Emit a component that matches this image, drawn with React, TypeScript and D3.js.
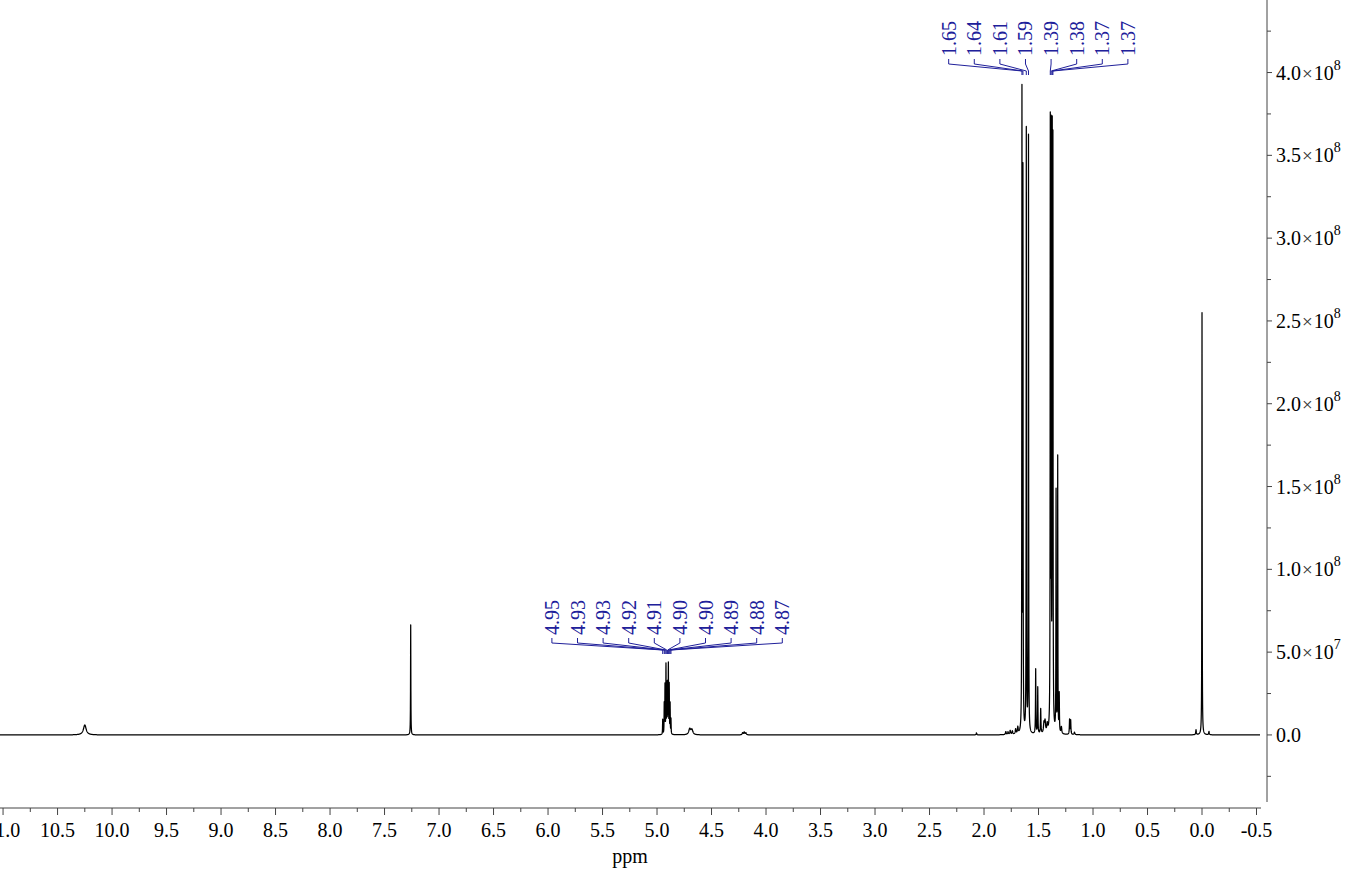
import React from 'react';
import * as d3 from 'd3';

const W = 1360;
const H = 870;

// Spectrum peak list: chemical shift (ppm), height (x1e6), FWHM (ppm)
const peakPpm = [
  10.25, 7.26,
  4.948, 4.934, 4.927, 4.918, 4.910, 4.903, 4.896, 4.888, 4.880, 4.872,
  4.70, 4.68, 4.215, 4.20, 4.185, 2.07,
  1.80, 1.78, 1.76, 1.74, 1.71, 1.69,
  1.652, 1.643, 1.612, 1.592,
  1.526, 1.507, 1.48, 1.45, 1.44, 1.42,
  1.392, 1.384, 1.374, 1.368,
  1.339, 1.324, 1.31, 1.29,
  1.215, 1.205, 1.17,
  0.055, 0.0, -0.064,
];
const peakHeight = [
  6.0, 66.5,
  9, 18, 29, 41, 29, 29, 41, 29, 18, 9,
  3.5, 3.0, 1.2, 1.6, 1.2, 1.2,
  1.8, 1.6, 2.4, 2.0, 3.0, 4.0,
  383, 334, 364, 360,
  39, 28, 15, 6, 7, 5,
  360, 351, 343, 340,
  145, 166, 23, 4,
  9, 8.5, 1.5,
  3, 255, 2,
];
const peakWidth = [
  0.03, 0.003,
  0.003, 0.003, 0.003, 0.003, 0.003, 0.003, 0.003, 0.003, 0.003, 0.003,
  0.02, 0.02, 0.01, 0.01, 0.01, 0.006,
  0.008, 0.008, 0.008, 0.008, 0.008, 0.008,
  0.003, 0.003, 0.003, 0.003,
  0.004, 0.004, 0.005, 0.01, 0.01, 0.01,
  0.003, 0.003, 0.003, 0.003,
  0.003, 0.003, 0.004, 0.008,
  0.005, 0.005, 0.008,
  0.006, 0.003, 0.006,
];

// Peak annotation groups
const group1Labels = ['1.65', '1.64', '1.61', '1.59', '1.39', '1.38', '1.37', '1.37'];
const group1Ppm = [1.652, 1.643, 1.612, 1.592, 1.392, 1.384, 1.374, 1.368];
const group2Labels = ['4.95', '4.93', '4.93', '4.92', '4.91', '4.90', '4.90', '4.89', '4.88', '4.87'];
const group2Ppm = [4.948, 4.934, 4.927, 4.918, 4.910, 4.903, 4.896, 4.888, 4.880, 4.872];

// Axis ticks
const xMajorTicks = [11.0, 10.5, 10.0, 9.5, 9.0, 8.5, 8.0, 7.5, 7.0, 6.5, 6.0, 5.5, 5.0, 4.5, 4.0, 3.5, 3.0, 2.5, 2.0, 1.5, 1.0, 0.5, 0.0, -0.5];
const xMinorTicks = [10.75, 10.25, 9.75, 9.25, 8.75, 8.25, 7.75, 7.25, 6.75, 6.25, 5.75, 5.25, 4.75, 4.25, 3.75, 3.25, 2.75, 2.25, 1.75, 1.25, 0.75, 0.25, -0.25];
const yMajorTicks = [0, 5e7, 1e8, 1.5e8, 2e8, 2.5e8, 3e8, 3.5e8, 4e8];
const yMinorTicks = [-2.5e7, 2.5e7, 7.5e7, 1.25e8, 1.75e8, 2.25e8, 2.75e8, 3.25e8, 3.75e8, 4.25e8];

const FONT = '"Liberation Serif", "Times New Roman", serif';
const LABEL_BLUE = '#20209a';

export default function App() {
  const x = d3.scaleLinear().domain([11.028, -0.532]).range([0, 1260]);
  const y = d3.scaleLinear().domain([-4.05e7, 4.438e8]).range([802, 0]);

  // build sampled spectrum from peak list
  const samples: number[] = [];
  for (let px = 0; px <= 1260; px += 0.1) samples.push(x.invert(px));
  peakPpm.forEach((p) => samples.push(p));
  samples.sort((a, b) => b - a);
  const intensity = (ppm: number) => {
    let s = 0;
    for (let i = 0; i < peakPpm.length; i++) {
      const g = peakWidth[i] / 2;
      const d = ppm - peakPpm[i];
      s += peakHeight[i] * 1e6 * (g * g) / (d * d + g * g);
    }
    return s;
  };
  const pts: [number, number][] = samples.map((p) => [p, intensity(p)]);
  const line = d3.line<[number, number]>().x((d) => x(d[0])).y((d) => y(d[1]));
  const specPath = line(pts) || '';

  const renderGroup = (labels: string[], ppms: number[], T: number, key: string) => {
    const pxs = ppms.map((p) => x(p));
    const center = d3.mean(pxs) as number;
    const step = 25.6;
    const n = labels.length;
    return (
      <g key={key}>
        {labels.map((lab, i) => {
          const lx = center + (i - (n - 1) / 2) * step;
          const px = pxs[i];
          return (
            <g key={i}>
              <path
                d={`M${lx},${T + 3}L${lx},${T + 8}L${px},${T + 15}L${px},${T + 19}`}
                fill="none"
                stroke={LABEL_BLUE}
                strokeWidth={1}
              />
              <text
                transform={`translate(${lx + 7},${T}) rotate(-90)`}
                fontSize={20}
                fontFamily={FONT}
                fill={LABEL_BLUE}
              >
                {lab}
              </text>
            </g>
          );
        })}
      </g>
    );
  };

  const fmtY = (v: number) => {
    if (v === 0) return { m: '0.0', e: null as number | null };
    const e = Math.floor(Math.log10(v) + 1e-9);
    const m = (v / Math.pow(10, e)).toFixed(1);
    return { m, e };
  };

  const xAxisY = 808;
  const yAxisX = 1267;

  return (
    <svg
      width={W}
      height={H}
      style={{ position: 'absolute', left: 0, top: 0, background: '#fff' }}
      fontFamily={FONT}
    >
      <rect x={0} y={0} width={W} height={H} fill="#fff" />
      {/* spectrum */}
      <path d={specPath} fill="none" stroke="#000" strokeWidth={1.25} strokeLinejoin="round" />

      {/* peak labels */}
      {renderGroup(group1Labels, group1Ppm, 56, 'g1')}
      {renderGroup(group2Labels, group2Ppm, 635, 'g2')}

      {/* x axis */}
      <line x1={0} x2={1261} y1={xAxisY} y2={xAxisY} stroke="#444" strokeWidth={1} />
      {xMajorTicks.map((t) => (
        <g key={'xm' + t}>
          <line x1={x(t)} x2={x(t)} y1={xAxisY} y2={xAxisY + 7} stroke="#444" strokeWidth={1} />
          <text x={x(t)} y={837} textAnchor="middle" fontSize={20} fill="#000">
            {t.toFixed(1)}
          </text>
        </g>
      ))}
      {xMinorTicks.map((t) => (
        <line key={'xn' + t} x1={x(t)} x2={x(t)} y1={xAxisY} y2={xAxisY + 4} stroke="#444" strokeWidth={1} />
      ))}
      <text x={630} y={863} textAnchor="middle" fontSize={20} fill="#000">
        ppm
      </text>

      {/* y axis */}
      <line x1={yAxisX} x2={yAxisX} y1={0} y2={802} stroke="#444" strokeWidth={1} />
      {yMajorTicks.map((t) => {
        const f = fmtY(t);
        return (
          <g key={'ym' + t}>
            <line x1={yAxisX} x2={yAxisX + 5} y1={y(t)} y2={y(t)} stroke="#444" strokeWidth={1} />
            <text x={yAxisX + 9} y={y(t) + 7} fontSize={20} fill="#000">
              <tspan>{f.m}</tspan>
              {f.e !== null && (
                <>
                  <tspan fontSize={19} fill="#333" dx={1}>×</tspan>
                  <tspan dx={1}>10</tspan>
                  <tspan fontSize={14} dy={-10}>{String(f.e)}</tspan>
                </>
              )}
            </text>
          </g>
        );
      })}
      {yMinorTicks.map((t) => (
        <line key={'yn' + t} x1={yAxisX} x2={yAxisX + 4} y1={y(t)} y2={y(t)} stroke="#444" strokeWidth={1} />
      ))}
    </svg>
  );
}
